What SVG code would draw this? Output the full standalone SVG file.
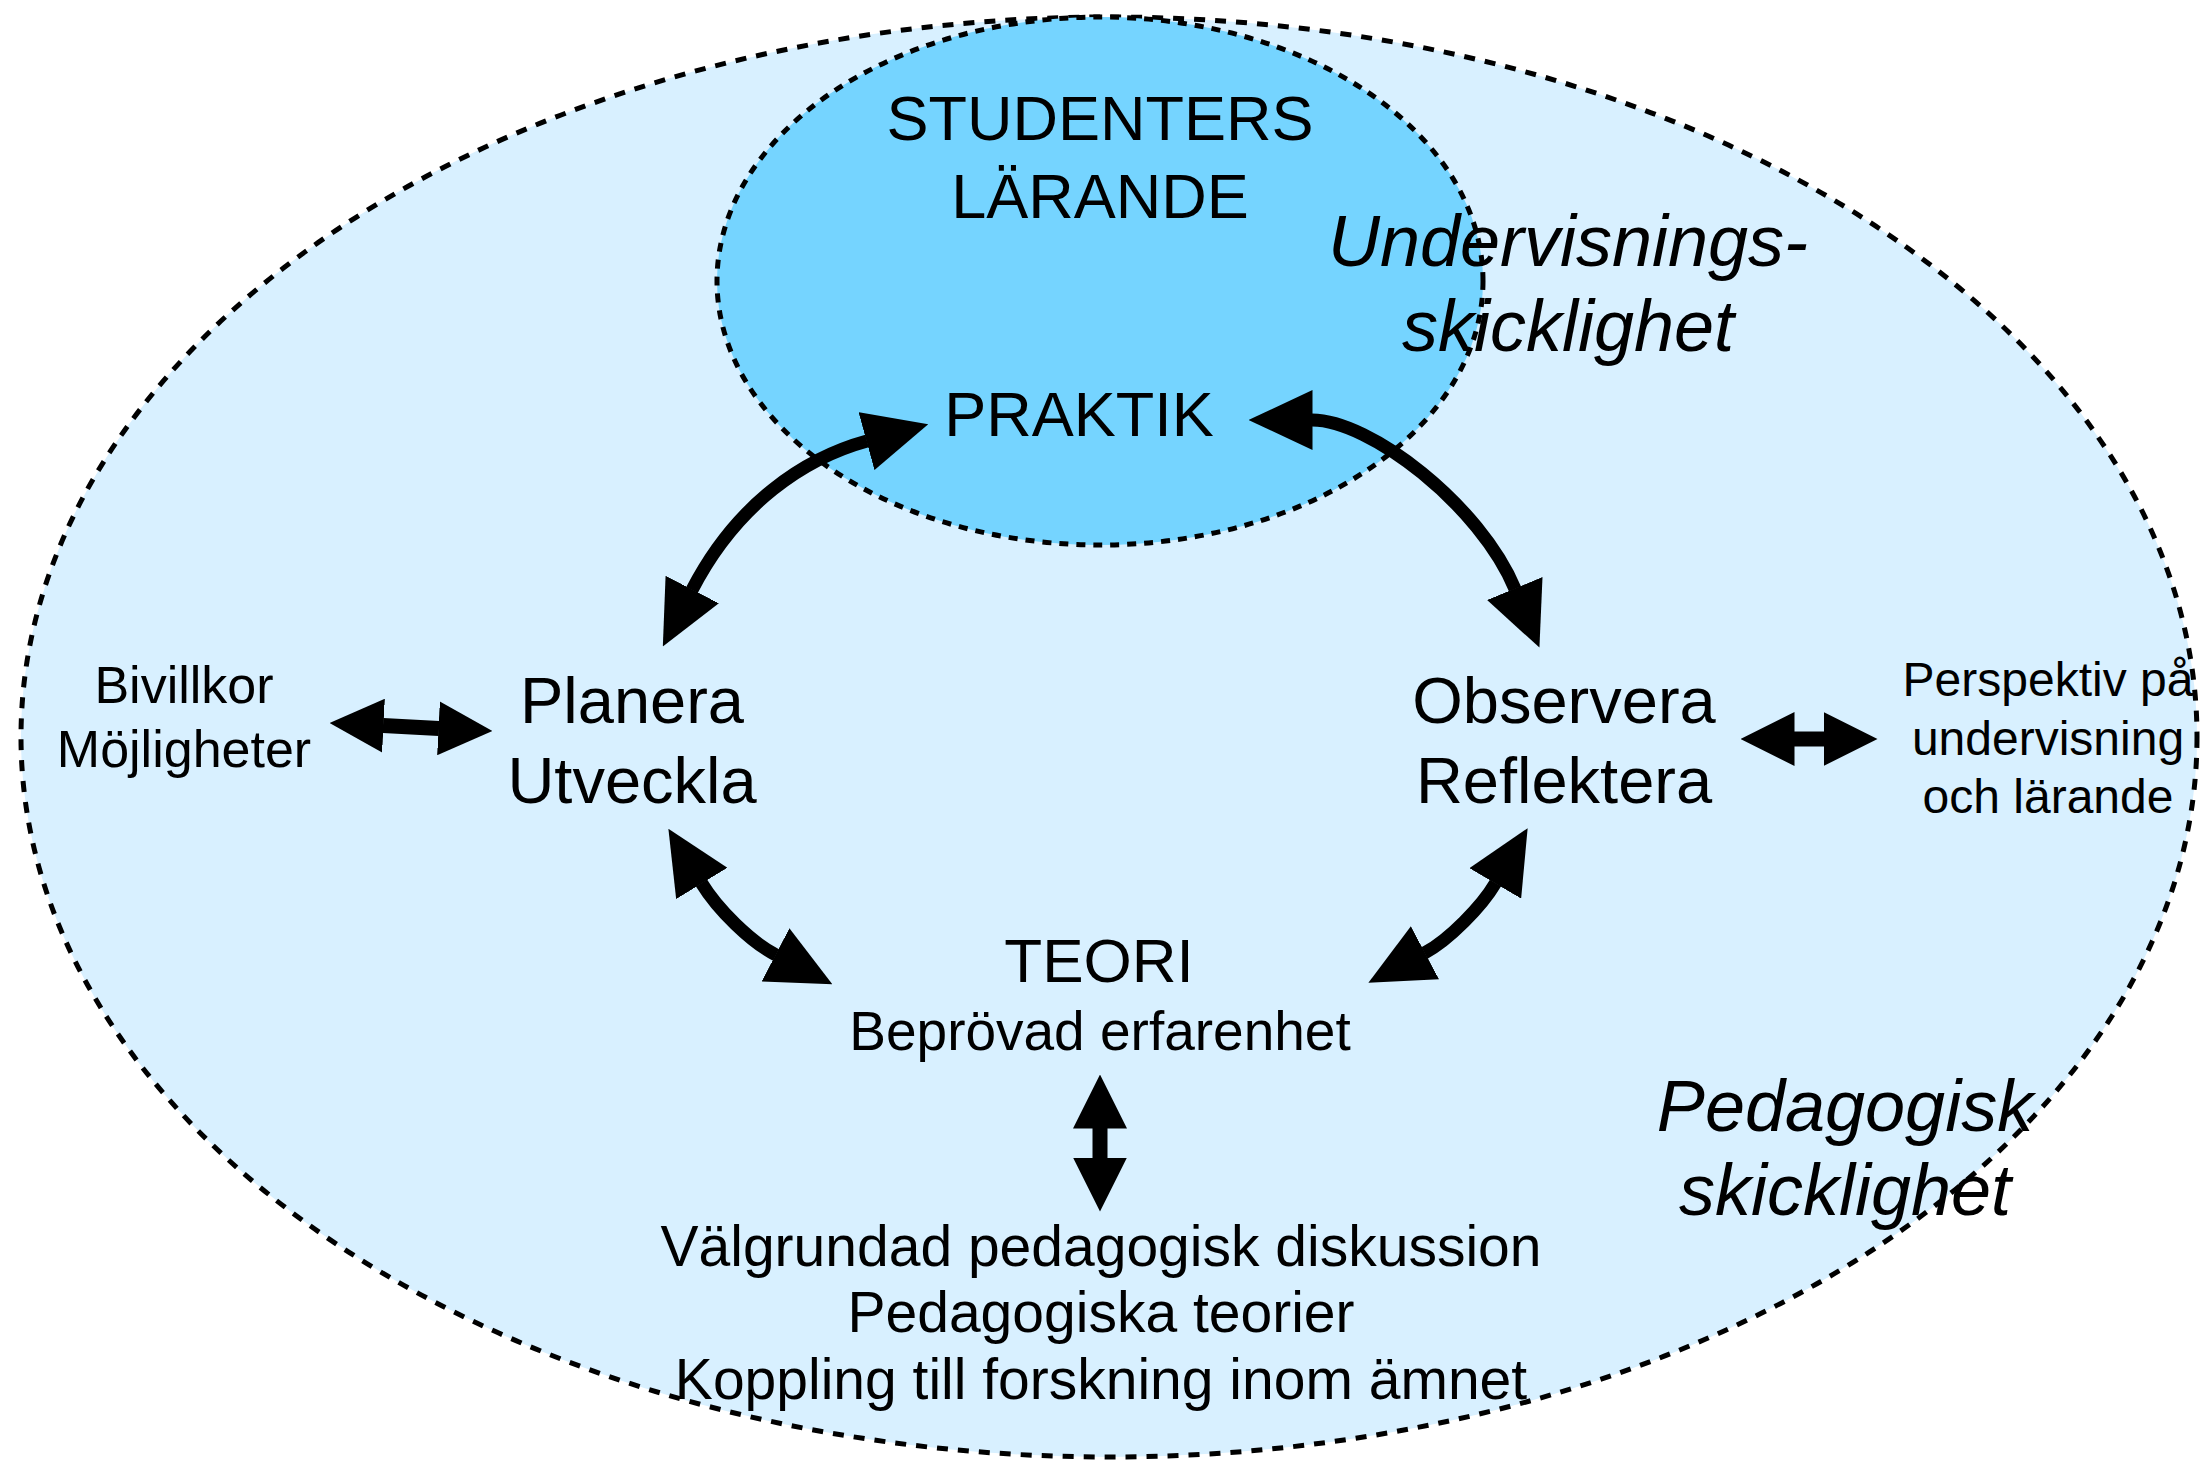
<svg xmlns="http://www.w3.org/2000/svg" width="2201" height="1463" viewBox="0 0 2201 1463">
<style>
.t{font-family:"Liberation Sans",Arial,Helvetica,sans-serif;fill:#000;text-anchor:middle}
.it{font-style:italic}
.ellB{stroke:#000;stroke-width:5;stroke-dasharray:11 10}
.ellS{stroke:#000;stroke-width:5;stroke-dasharray:9 8}
.shaft{fill:none;stroke:#000;stroke-width:13;stroke-linecap:butt}
.sshaft{fill:none;stroke:#000;stroke-width:15;stroke-linecap:butt}
</style>
<defs>
<marker id="headL" viewBox="0 0 64 60" refX="0.5" refY="30" markerWidth="64" markerHeight="60" markerUnits="userSpaceOnUse" orient="auto-start-reverse"><path d="M0,0 L64,30 L0,60 Z" fill="#000"/></marker>
<marker id="headS" viewBox="0 0 54 54" refX="0.5" refY="27" markerWidth="54" markerHeight="54" markerUnits="userSpaceOnUse" orient="auto-start-reverse"><path d="M0,0 L54,27 L0,54 Z" fill="#000"/></marker>
</defs>
<rect width="2201" height="1463" fill="#fff"/>
<g id="pedagogisk-skicklighet">
<ellipse class="ellB" cx="1109" cy="737" rx="1088" ry="720" fill="#D8F0FF"/>
<text class="t it" x="1845" y="1131" font-size="72">Pedagogisk</text>
<text class="t it" x="1845" y="1215" font-size="72">skicklighet</text>
</g>
<g id="studenters-larande">
<ellipse class="ellS" cx="1100" cy="281" rx="383" ry="264" fill="#75D4FF"/>
<text class="t" x="1100" y="140" font-size="63">STUDENTERS</text>
<text class="t" x="1100" y="218" font-size="63">LÄRANDE</text>
</g>
<g id="undervisningsskicklighet">
<text class="t it" x="1568" y="266" font-size="72">Undervisnings-</text>
<text class="t it" x="1568" y="351" font-size="72">skicklighet</text>
</g>
<g id="praktik">
<text class="t" x="1079" y="436" font-size="63">PRAKTIK</text>
</g>
<g id="planera">
<text class="t" x="632" y="723" font-size="65">Planera</text>
<text class="t" x="632" y="803" font-size="65">Utveckla</text>
</g>
<g id="observera">
<text class="t" x="1564" y="723" font-size="65">Observera</text>
<text class="t" x="1564" y="803" font-size="65">Reflektera</text>
</g>
<g id="bivillkor">
<text class="t" x="184" y="703" font-size="52">Bivillkor</text>
<text class="t" x="184" y="767" font-size="52">Möjligheter</text>
</g>
<g id="perspektiv">
<text class="t" x="2048" y="696" font-size="48">Perspektiv på</text>
<text class="t" x="2048" y="755" font-size="48">undervisning</text>
<text class="t" x="2048" y="813" font-size="48">och lärande</text>
</g>
<g id="teori">
<text class="t" x="1099" y="982" font-size="62">TEORI</text>
<text class="t" x="1100" y="1050" font-size="55">Beprövad erfarenhet</text>
</g>
<g id="diskussion">
<text class="t" x="1101" y="1266" font-size="57">Välgrundad pedagogisk diskussion</text>
<text class="t" x="1101" y="1332" font-size="57">Pedagogiska teorier</text>
<text class="t" x="1101" y="1399" font-size="57">Koppling till forskning inom ämnet</text>
</g>
<g id="connectors">
<path class="shaft" d="M692,590 C737,503 805,458 867,441" marker-start="url(#headL)" marker-end="url(#headL)"/>
<path class="shaft" d="M1312,420 C1370,420 1480,505 1515,589" marker-start="url(#headL)" marker-end="url(#headL)"/>
<path class="shaft" d="M701.5,883 C718,910 751,942 776,955" marker-start="url(#headL)" marker-end="url(#headL)"/>
<path class="shaft" d="M1495.5,883 C1482,906 1449,940 1424.5,953" marker-start="url(#headL)" marker-end="url(#headL)"/>
<path class="sshaft" d="M383,725.6 L439,728.4" marker-start="url(#headS)" marker-end="url(#headS)"/>
<path class="sshaft" d="M1794,739 L1824,739" marker-start="url(#headS)" marker-end="url(#headS)"/>
<path class="sshaft" d="M1100,1128 L1100,1158" marker-start="url(#headS)" marker-end="url(#headS)"/>
</g>
</svg>
